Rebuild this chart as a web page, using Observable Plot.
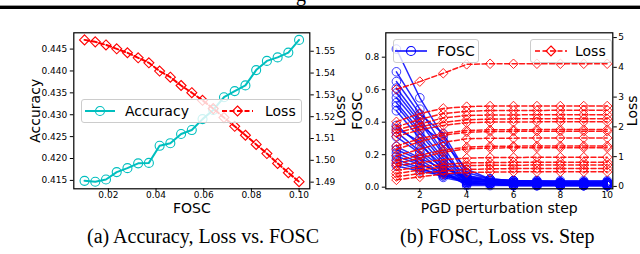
<!DOCTYPE html>
<html><head><meta charset="utf-8">
<script src="https://cdn.jsdelivr.net/npm/d3@7"></script>
<script src="https://cdn.jsdelivr.net/npm/@observablehq/plot@0.6"></script>
<style>
body{margin:0;background:#fff;}
#root{position:relative;width:640px;height:254px;overflow:hidden;background:#fff;font-family:"DejaVu Sans";}
#root > svg{position:absolute;left:0;top:0;}
.leg{position:absolute;background:rgba(255,255,255,0.8);border:1px solid #cccccc;border-radius:3px;box-sizing:border-box;}
.sw{position:absolute;overflow:visible;}
.lt{position:absolute;font-family:"DejaVu Sans";font-size:14px;line-height:14px;white-space:nowrap;color:#000;}
.cap{position:absolute;font-family:"Liberation Serif";font-size:20px;line-height:20px;white-space:nowrap;color:#000;}
</style></head>
<body>
<div id="root"></div>
<script>
// ---------- data: panel (a) ----------
const foscA = [0.0100,0.0145,0.0190,0.0235,0.0280,0.0325,0.0370,0.0415,0.0460,0.0505,0.0550,0.0595,0.0640,0.0685,0.0730,0.0775,0.0820,0.0865,0.0910,0.0955,0.1000];
const accuracyA = [0.4149,0.4147,0.4152,0.4169,0.4178,0.4189,0.4190,0.4229,0.4235,0.4256,0.4265,0.4290,0.4311,0.4340,0.4354,0.4367,0.4402,0.4423,0.4431,0.4442,0.4471];
const lossA = [1.5552,1.5543,1.5529,1.5511,1.5493,1.5470,1.5447,1.5409,1.5381,1.5343,1.5310,1.5275,1.5237,1.5196,1.5156,1.5115,1.5073,1.5031,1.4986,1.4943,1.4902];
const foscTicksA = [0.02,0.04,0.06,0.08,0.10];
const accTicksA = [0.415,0.420,0.425,0.430,0.435,0.440,0.445];
const lossTicksA = [1.49,1.50,1.51,1.52,1.53,1.54,1.55];

// ---------- data: panel (b) ----------
const steps = [1,2,3,4,5,6,7,8,9,10];
const foscRuns = [
  [0.85,0.55,0.31,0.06,0.04,0.03,0.03,0.03,0.03,0.03],
  [0.71,0.48,0.25,0.03,0.02,0.02,0.02,0.02,0.02,0.02],
  [0.65,0.45,0.33,0.09,0.05,0.04,0.03,0.03,0.03,0.03],
  [0.61,0.42,0.22,0.02,0.02,0.01,0.01,0.01,0.01,0.01],
  [0.58,0.40,0.20,0.07,0.04,0.03,0.03,0.02,0.02,0.02],
  [0.55,0.38,0.28,0.11,0.05,0.04,0.04,0.03,0.03,0.03],
  [0.52,0.35,0.18,0.04,0.03,0.02,0.02,0.02,0.02,0.02],
  [0.50,0.33,0.16,0.03,0.02,0.02,0.02,0.01,0.01,0.01],
  [0.47,0.30,0.14,0.02,0.02,0.01,0.01,0.01,0.01,0.01],
  [0.38,0.26,0.13,0.05,0.03,0.03,0.02,0.02,0.02,0.02],
  [0.36,0.28,0.10,0.01,0.01,0.01,0.01,0.01,0.01,0.01],
  [0.34,0.22,0.12,0.06,0.04,0.03,0.03,0.03,0.03,0.03],
  [0.31,0.21,0.09,0.03,0.02,0.02,0.02,0.02,0.02,0.02],
  [0.25,0.18,0.11,0.07,0.05,0.04,0.04,0.04,0.04,0.04],
  [0.23,0.17,0.08,0.02,0.02,0.01,0.01,0.01,0.01,0.01],
  [0.21,0.15,0.07,0.04,0.03,0.02,0.02,0.02,0.02,0.02],
  [0.19,0.14,0.09,0.06,0.04,0.04,0.03,0.03,0.03,0.03],
  [0.17,0.12,0.06,0.03,0.02,0.02,0.02,0.02,0.02,0.02],
  [0.15,0.11,0.08,0.05,0.04,0.03,0.03,0.03,0.03,0.03],
  [0.13,0.10,0.07,0.04,0.03,0.03,0.02,0.02,0.02,0.02]
];
const lossRuns = [
  [3.26,3.52,3.80,4.10,4.12,4.12,4.12,4.12,4.12,4.12],
  [2.17,2.45,2.62,2.68,2.70,2.70,2.70,2.70,2.70,2.70],
  [2.00,2.25,2.45,2.52,2.55,2.55,2.55,2.56,2.56,2.56],
  [1.90,2.10,2.30,2.38,2.40,2.40,2.41,2.41,2.41,2.41],
  [1.80,2.00,2.15,2.24,2.26,2.27,2.27,2.27,2.27,2.27],
  [1.68,1.90,2.05,2.14,2.16,2.16,2.17,2.17,2.17,2.17],
  [1.36,1.60,1.78,1.88,1.90,1.90,1.91,1.91,1.91,1.91],
  [1.25,1.50,1.72,1.82,1.84,1.85,1.85,1.85,1.85,1.85],
  [1.03,1.25,1.48,1.60,1.62,1.62,1.63,1.63,1.63,1.63],
  [0.87,1.05,1.22,1.32,1.35,1.35,1.36,1.36,1.36,1.36],
  [0.76,0.95,1.15,1.26,1.29,1.30,1.30,1.30,1.30,1.30],
  [0.70,0.80,0.90,0.95,0.97,0.97,0.98,0.98,0.98,0.98],
  [0.54,0.65,0.74,0.79,0.80,0.81,0.81,0.81,0.81,0.81],
  [0.43,0.55,0.65,0.70,0.71,0.71,0.72,0.72,0.72,0.72],
  [0.33,0.43,0.52,0.57,0.59,0.60,0.60,0.60,0.60,0.60],
  [0.22,0.32,0.42,0.47,0.48,0.49,0.49,0.49,0.49,0.49]
];
const stepTicks = [2,4,6,8,10];
const foscTicksB = [0.0,0.2,0.4,0.6,0.8];
const lossTicksB = [0,1,2,3,4,5];

// ---------- tables ----------
const tableA = foscA.map((f,i) => ({fosc:f, acc:accuracyA[i], loss:lossA[i]}));
const foscTable = foscRuns.flatMap((run,r) => run.map((v,j) => ({run:r, step:steps[j], value:v})));
const lossTable = lossRuns.flatMap((run,r) => run.map((v,j) => ({run:r, step:steps[j], value:v})));

const CYAN = "#00bfbf", RED = "#ff0000", BLUE = "#0000ff";
const W = 640, H = 215;
const st = {fontFamily:"DejaVu Sans", fontSize:"9px", color:"#000", background:"transparent", overflow:"visible"};
const vTop = 32.3, vBot = 26.7;
const A = {marginLeft:73.3, marginRight:W-309.3};
const B = {marginLeft:385.3, marginRight:W-612.3};
const xA = {domain:[0.0055,0.1045], axis:null};
const xB = {domain:[0.547,10.24], axis:null};
const lab = (s, o) => Plot.text([s], {text:d=>d, fontSize:14, fill:"#000", textAnchor:"middle", lineAnchor:"middle", ...o});
const tx = {tickSize:3.5, tickPadding:-0.5, label:null};

const plots = [];
// panel a, primary (accuracy)
plots.push(Plot.plot({width:W, height:H, marginTop:vTop, marginBottom:vBot, ...A, style:st,
  x:xA, y:{domain:[0.41308,0.44872], axis:null},
  marks:[
    Plot.axisX({ticks:foscTicksA, tickFormat:d3.format(".2f"), ...tx}),
    Plot.axisY({ticks:accTicksA, tickFormat:d3.format(".3f"), tickSize:3.5, tickPadding:3, label:null}),
    Plot.line(tableA, {x:"fosc", y:"acc", stroke:CYAN, strokeWidth:2}),
    Plot.dot(tableA, {x:"fosc", y:"acc", r:4.5, stroke:CYAN, strokeWidth:1.1, fill:"none"}),
    Plot.frame({stroke:"#000", strokeWidth:1.2}),
    lab("Accuracy", {frameAnchor:"left", dx:-38, rotate:-90}),
    lab("FOSC", {frameAnchor:"bottom", dy:20})
  ]}));
// panel a, secondary (loss)
plots.push(Plot.plot({width:W, height:H, marginTop:vTop, marginBottom:vBot, ...A, style:st,
  x:xA, y:{domain:[1.48695,1.55845], axis:null},
  marks:[
    Plot.axisY({anchor:"right", ticks:lossTicksA, tickFormat:d3.format(".2f"), tickSize:3.5, tickPadding:2, label:null}),
    Plot.line(tableA, {x:"fosc", y:"loss", stroke:RED, strokeWidth:2, strokeDasharray:"5,2.5"}),
    Plot.dot(tableA, {x:"fosc", y:"loss", symbol:"diamond2", r:4.5, stroke:RED, strokeWidth:1.1, fill:"none"}),
    lab("Loss", {frameAnchor:"right", dx:31, rotate:-90})
  ]}));
// panel b, primary (FOSC)
plots.push(Plot.plot({width:W, height:H, marginTop:vTop, marginBottom:vBot, ...B, style:st,
  x:xB, y:{domain:[-0.01,0.95], axis:null},
  marks:[
    Plot.axisX({ticks:stepTicks, tickFormat:d3.format("d"), ...tx}),
    Plot.axisY({ticks:foscTicksB, tickFormat:d3.format(".1f"), tickSize:3.5, tickPadding:3, label:null}),
    Plot.line(foscTable, {x:"step", y:"value", z:"run", stroke:BLUE, strokeWidth:1.5, strokeOpacity:0.85}),
    Plot.dot(foscTable, {x:"step", y:"value", r:4.3, stroke:BLUE, strokeWidth:1, strokeOpacity:0.75, fill:"none"}),
    Plot.frame({stroke:"#000", strokeWidth:1.2}),
    lab("FOSC", {frameAnchor:"left", dx:-28, rotate:-90}),
    lab("PGD perturbation step", {frameAnchor:"bottom", dy:20})
  ]}));
// panel b, secondary (loss)
plots.push(Plot.plot({width:W, height:H, marginTop:vTop, marginBottom:vBot, ...B, style:st,
  x:xB, y:{domain:[-0.08,5.16], axis:null},
  marks:[
    Plot.axisY({anchor:"right", ticks:lossTicksB, tickFormat:d3.format("d"), tickSize:3.5, tickPadding:2, label:null}),
    Plot.line(lossTable, {x:"step", y:"value", z:"run", stroke:RED, strokeWidth:1.5, strokeDasharray:"5,2.5", strokeOpacity:0.9}),
    Plot.dot(lossTable, {x:"step", y:"value", symbol:"diamond2", r:4.3, stroke:RED, strokeWidth:1, strokeOpacity:0.85, fill:"none"}),
    lab("Loss", {frameAnchor:"right", dx:19.5, rotate:-90})
  ]}));

const root = document.getElementById("root");
// top rule
const r1 = document.createElement("div");
r1.style.cssText = "position:absolute;left:0;top:5px;width:640px;height:1px;background:#999;";
const r2 = document.createElement("div");
r2.style.cssText = "position:absolute;left:0;top:6px;width:640px;height:3px;background:#000;";
root.append(r1, r2);
const g = document.createElement("div");
g.className = "cap"; g.textContent = "g";
g.style.left = "296px"; g.style.top = "-16px";
root.append(g);

plots.forEach(p => root.append(p));

// legends (HTML overlays inside the axes)
function legendBox(x0, y0, x1, y1) {
  const d = document.createElement("div");
  d.className = "leg";
  d.style.left = x0 + "px"; d.style.top = y0 + "px";
  d.style.width = (x1 - x0) + "px"; d.style.height = (y1 - y0) + "px";
  root.append(d);
}
function swatch(x0, x1, yc, color, dashed, marker, lw) {
  const ns = "http://www.w3.org/2000/svg";
  const s = document.createElementNS(ns, "svg");
  s.setAttribute("class", "sw");
  s.setAttribute("width", x1 - x0 + 12); s.setAttribute("height", 14);
  s.style.position = "absolute"; s.style.left = (x0 - 6) + "px"; s.style.top = (yc - 7) + "px";
  const l = document.createElementNS(ns, "line");
  l.setAttribute("x1", 6); l.setAttribute("x2", x1 - x0 + 6); l.setAttribute("y1", 7); l.setAttribute("y2", 7);
  l.setAttribute("stroke", color); l.setAttribute("stroke-width", lw);
  if (dashed) l.setAttribute("stroke-dasharray", "5,2.5");
  s.append(l);
  const cx = (x1 - x0) / 2 + 6;
  if (marker === "circle") {
    const c = document.createElementNS(ns, "circle");
    c.setAttribute("cx", cx); c.setAttribute("cy", 7); c.setAttribute("r", 4.5);
    c.setAttribute("fill", "none"); c.setAttribute("stroke", color); c.setAttribute("stroke-width", 1.1);
    s.append(c);
  } else {
    const p = document.createElementNS(ns, "path");
    p.setAttribute("d", `M${cx},2L${cx+5},7L${cx},12L${cx-5},7Z`);
    p.setAttribute("fill", "none"); p.setAttribute("stroke", color); p.setAttribute("stroke-width", 1.1);
    s.append(p);
  }
  root.append(s);
}
function legText(txt, x, yc) {
  const t = document.createElement("div");
  t.className = "lt"; t.textContent = txt;
  t.style.left = x + "px"; t.style.top = (yc - 7.5) + "px";
  root.append(t);
}
legendBox(81, 99, 302, 123);
swatch(85, 115, 111, CYAN, false, "circle", 2); legText("Accuracy", 125, 111);
swatch(222, 253, 111, RED, true, "diamond", 2); legText("Loss", 265, 111);

legendBox(393, 39, 479, 63);
swatch(395, 427, 51, BLUE, false, "circle", 1.5); legText("FOSC", 437, 51);
legendBox(530, 39, 612, 63);
swatch(535, 567, 51, RED, true, "diamond", 1.5); legText("Loss", 575, 51);

// captions
function cap(txt, cx, top) {
  const c = document.createElement("div");
  c.className = "cap"; c.textContent = txt;
  root.append(c);
  c.style.left = (cx - c.offsetWidth / 2) + "px"; c.style.top = top + "px";
}
cap("(a) Accuracy, Loss vs. FOSC", 203, 226);
cap("(b) FOSC, Loss vs. Step", 497, 226);
</script>
</body></html>
